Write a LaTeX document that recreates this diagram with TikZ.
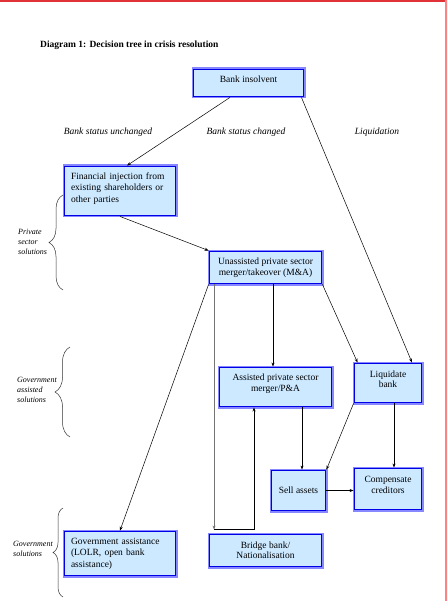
\documentclass[tikz,border=0pt]{standalone}
\usepackage{fontspec}
\setmainfont{Liberation Serif}
\usetikzlibrary{arrows.meta,decorations.pathreplacing}
\definecolor{boxfill}{RGB}{204,233,255}
\definecolor{boxline}{RGB}{0,0,230}
\definecolor{boxhalo}{RGB}{135,135,255}
\definecolor{frameA}{RGB}{225,50,55}
\definecolor{frameB}{RGB}{255,130,130}
\begin{document}
\begin{tikzpicture}[x=1pt,y=-1pt,
  box/.style={draw=boxline, line width=1.9pt, fill=boxfill,
    preaction={draw=boxhalo, line width=4pt}, inner sep=0pt},
  txt/.style={font=\fontsize{9.5}{11.5}\selectfont, inner sep=0pt, align=center},
  ltxt/.style={font=\fontsize{9.5}{11.5}\selectfont, inner sep=0pt, text width=98pt, align=left},
  side/.style={font=\fontsize{8}{10}\selectfont\itshape, align=left, anchor=west, inner sep=0pt},
  head/.style={font=\fontsize{9.5}{11.5}\selectfont\itshape, inner sep=0pt},
  conn/.style={line width=0.5pt, -{Stealth[length=4pt,width=3pt]}},
  brc/.style={decorate, decoration={brace, amplitude=#1}, line width=0.5pt, draw=black!80},
]
\useasboundingbox (0,0) rectangle (447,601);
% frame
\fill[frameA] (0,0) rectangle (447,2);
\fill[frameB] (445,0) rectangle (447,601);

\node[anchor=base west, font=\fontsize{9.5}{11}\selectfont\bfseries, inner sep=0pt] (title) at (40,48)
  {Diagram 1: Decision tree in crisis resolution};

\node[head] (h1) at (108,132) {Bank status unchanged};
\node[head] (h2) at (246,132) {Bank status changed};
\node[head] (h3) at (377,132) {Liquidation};

% boxes
\node[box, minimum width=110pt, minimum height=27pt,
  label={[txt,yshift=4pt]center:Bank insolvent}] (bank) at (248.5,83) {};
\node[box, minimum width=111pt, minimum height=49pt,
  label={[ltxt,yshift=2.5pt]center:{Financial injection from\\existing shareholders or\\other parties}}] (fi) at (120,191) {};
\node[box, minimum width=112pt, minimum height=32pt,
  label={[txt]center:{Unassisted private sector\\merger/takeover (M\&A)}}] (un) at (265.5,267.5) {};
\node[box, minimum width=112pt, minimum height=39pt,
  label={[txt,yshift=3.5pt]center:{Assisted private sector\\merger/P\&A}}] (as) at (275.5,387) {};
\node[box, minimum width=67pt, minimum height=39pt,
  label={[txt,yshift=4pt,font=\fontsize{9.5}{10.5}\selectfont]center:{Liquidate\\bank}}] (liq) at (388,383) {};
\node[box, minimum width=54pt, minimum height=40pt,
  label={[txt]center:Sell assets}] (sell) at (298.5,490.5) {};
\node[box, minimum width=67pt, minimum height=41pt,
  label={[txt,yshift=4pt]center:{Compensate\\creditors}}] (comp) at (388,489) {};
\node[box, minimum width=111pt, minimum height=44pt,
  label={[ltxt]center:{Government assistance\\(LOLR, open bank\\assistance)}}] (gov) at (120,553.5) {};
\node[box, minimum width=112pt, minimum height=32pt,
  label={[txt,yshift=0.5pt,font=\fontsize{9.5}{10.5}\selectfont]center:{Bridge bank/\\Nationalisation}}] (bridge) at (265.5,550.5) {};

% connectors
\draw[conn] ([xshift=-18.5pt]bank.south) -- ([xshift=7pt]fi.north);
\draw[conn] (fi.south) -- (un.north west);
\draw[conn] ([xshift=-3pt]bank.south east) -- ([xshift=24pt]liq.north);
\draw[conn] (un.south west) -- (gov.north);
\coordinate (jn) at ([xshift=5.5pt,yshift=4pt]bridge.north west);
\draw[conn, draw=black!55] ([xshift=5.5pt]un.south west) -- (jn);
\draw[conn, line width=0.9pt] (jn) -| ([xshift=-21.5pt]as.south);
\draw[conn] ([xshift=7.5pt]un.south) -- ([xshift=7.5pt]un.south |- as.north);
\draw[conn] (un.south east) -- ([xshift=4pt]liq.north west);
\draw[conn] ([xshift=26.5pt]as.south) -- ([xshift=26.5pt]as.south |- sell.north);
\draw[conn] (liq.south west) -- (sell.north east);
\draw[conn] ([xshift=6pt]liq.south) -- ([xshift=6pt]liq.south |- comp.north);
\draw[conn] (sell.east) -- (sell.east -| comp.west);

% braces and side labels
\draw[brc=14pt] (63,290) -- (63,195);
\node[side] (s1) at (18,242) {Private\\sector\\solutions};
\draw[brc=15pt] (70,437) -- (70,347);
\node[side] (s2) at (17,390) {Government\\assisted\\solutions};
\draw[brc=10pt] (63,597) -- (63,508);
\node[side] (s3) at (13,549) {Government\\solutions};
\end{tikzpicture}
\end{document}
